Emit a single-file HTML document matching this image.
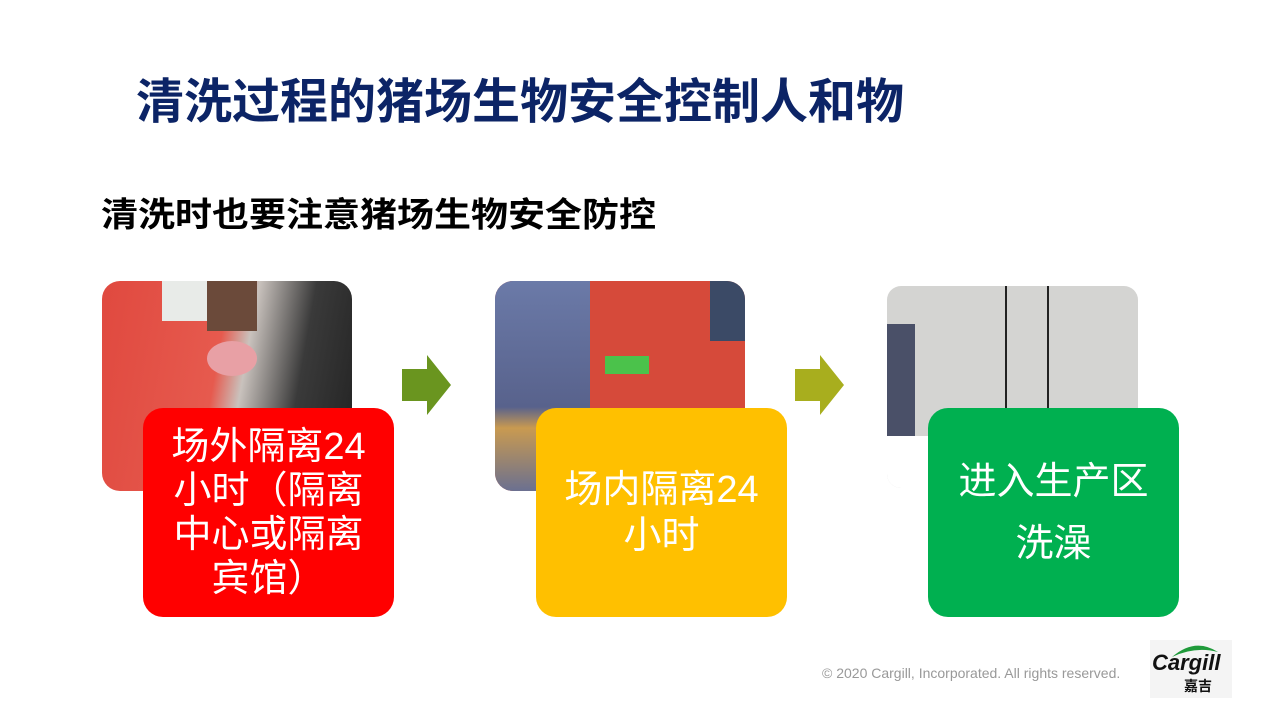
<!DOCTYPE html>
<html><head><meta charset="utf-8"><style>
body{margin:0;width:1280px;height:720px;background:#fff;position:relative;overflow:hidden;font-family:"Liberation Sans","Noto Sans CJK SC",sans-serif}
.a{position:absolute}
.t{left:136px;top:73px;font-size:48px;line-height:60px;font-weight:bold;color:#0c2466;white-space:nowrap}
.s{left:101px;top:195px;font-size:37px;line-height:44px;font-weight:bold;color:#000;white-space:nowrap;transform:scaleY(0.92);transform-origin:left top}
.ph{border-radius:18px;overflow:hidden}
.box{border-radius:20px;color:#fff;font-size:38px;line-height:44px;text-align:center;display:flex;align-items:center;justify-content:center;width:251px;height:209px;white-space:nowrap}
</style></head><body>
<div class="a t">清洗过程的猪场生物安全控制人和物</div>
<div class="a s">清洗时也要注意猪场生物安全防控</div>

<div class="a ph" style="left:102px;top:281px;width:250px;height:210px;background:linear-gradient(100deg,#e0493f 0%,#e65a4e 45%,#c9c2bd 55%,#3a3a3a 75%,#222 100%)">
 <div class="a" style="left:60px;top:0;width:50px;height:40px;background:#e8ebe8"></div>
 <div class="a" style="left:105px;top:0;width:50px;height:50px;background:#6b4a3a"></div>
 <div class="a" style="left:105px;top:60px;width:50px;height:35px;background:#e8a0a5;border-radius:50%"></div>
</div>
<div class="a ph" style="left:495px;top:281px;width:250px;height:210px;background:#d64a3a">
 <div class="a" style="left:0;top:0;width:95px;height:210px;background:linear-gradient(#6b7aa8,#58628c 60%,#c99a50 70%,#6b7090)"></div>
 <div class="a" style="left:215px;top:0;width:35px;height:60px;background:#3b4a66"></div>
 <div class="a" style="left:110px;top:75px;width:44px;height:18px;background:#4bc24b"></div>
</div>
<div class="a ph" style="left:887px;top:286px;width:251px;height:202px;background:#d4d4d2;border-radius:14px">
 <div class="a" style="left:0;top:38px;width:28px;height:130px;background:#4a5068"></div>
 <div class="a" style="left:118px;top:0;width:2px;height:130px;background:#222"></div>
 <div class="a" style="left:160px;top:0;width:2px;height:130px;background:#222"></div>
 <div class="a" style="left:0;top:150px;width:50px;height:52px;background:#fff"></div>
</div>

<svg class="a" style="left:400px;top:354px" width="52" height="62"><polygon points="2,15 27,15 27,1 51,31 27,61 27,47 2,47" fill="#6a951f"/></svg>
<svg class="a" style="left:793px;top:354px" width="52" height="62"><polygon points="2,15 27,15 27,1 51,31 27,61 27,47 2,47" fill="#a8ae1e"/></svg>

<div class="a box" style="left:143px;top:408px;background:#ff0000">场外隔离24<br>小时（隔离<br>中心或隔离<br>宾馆）</div>
<div class="a box" style="left:536px;top:408px;background:#ffc000;line-height:46px">场内隔离24<br>小时</div>
<div class="a box" style="left:928px;top:408px;background:#00b050;line-height:62px">进入生产区<br>洗澡</div>

<div class="a" style="left:822px;top:665px;font-size:14px;color:#999;white-space:nowrap">© 2020 Cargill, Incorporated. All rights reserved.</div>
<div class="a" style="left:1150px;top:640px;width:82px;height:58px;background:#f4f4f4">
 <svg class="a" style="left:20px;top:2px" width="50" height="16"><path d="M2,15 Q25,-5 48,10 Q25,4 2,15Z" fill="#1f9a3a"/></svg>
 <div class="a" style="left:2px;top:10px;font-size:22px;font-weight:bold;font-style:italic;color:#111">Cargill</div>
 <div class="a" style="left:34px;top:36px;font-size:14px;font-weight:bold;color:#111">嘉吉</div>
</div>
</body></html>
